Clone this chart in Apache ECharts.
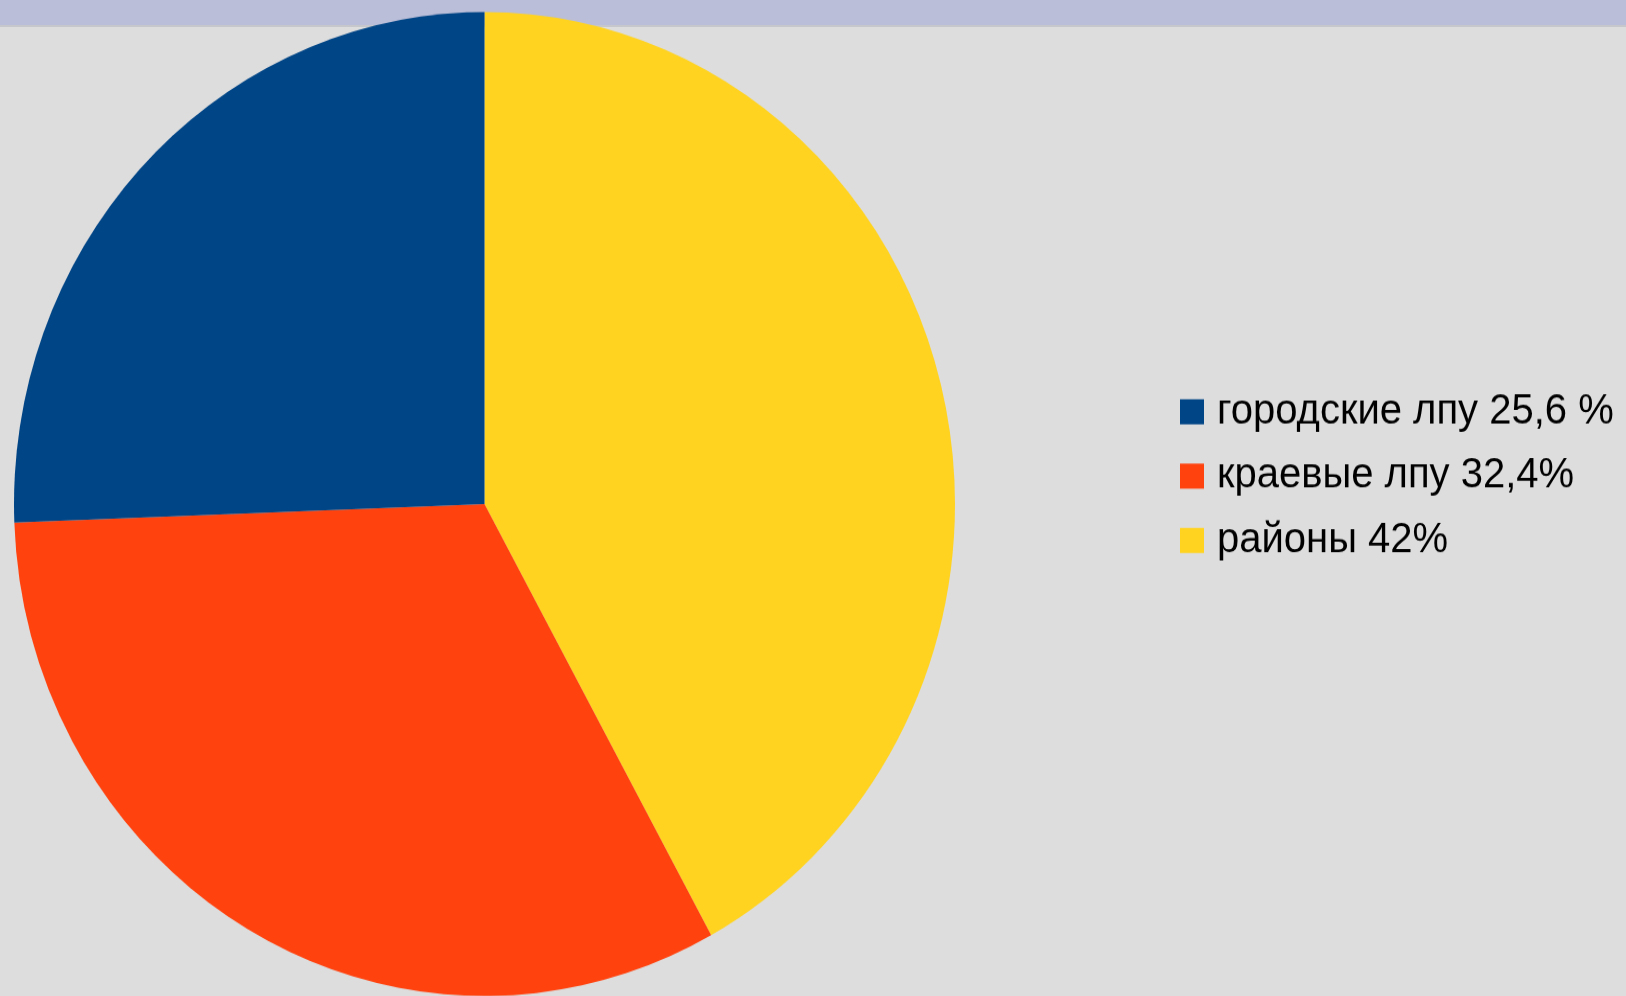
<!DOCTYPE html>
<html>
<head>
<meta charset="utf-8">
<script src="https://cdn.jsdelivr.net/npm/echarts@6/dist/echarts.min.js"></script>
<style>
html,body{margin:0;padding:0;width:1626px;height:996px;overflow:hidden;background:#dddddd;}
#band{position:absolute;left:0;top:0;width:1626px;height:25px;background:#babed8;border-bottom:2px solid #c6c7cc;}
#chart{position:absolute;left:0;top:0;width:1626px;height:952.5px;transform:scaleY(1.0457);transform-origin:0 0;}
</style>
</head>
<body>
<div id="band"></div>
<div id="chart"></div>
<script>
// Data
const categories = ['районы 42%', 'краевые лпу 32,4%', 'городские лпу 25,6 %'];
const values = [42, 32.4, 25.6];
const colors = ['#ffd320', '#ff420e', '#004586'];
const legendOrder = ['городские лпу 25,6 %', 'краевые лпу 32,4%', 'районы 42%'];

const chart = echarts.init(document.getElementById('chart'), null, {renderer: 'canvas'});
chart.setOption({
  backgroundColor: 'transparent',
  animation: false,
  legend: {
    orient: 'vertical',
    left: 1175,
    top: 368.8,
    padding: 5,
    data: legendOrder,
    icon: 'rect',
    itemWidth: 24,
    itemHeight: 24,
    itemGap: 21.5,
    selectedMode: false,
    textStyle: {
      fontFamily: 'Liberation Sans',
      fontSize: 40,
      color: '#000000',
      padding: [0, 0, 0, 8]
    }
  },
  series: [{
    type: 'pie',
    center: [484.5, 482],
    radius: [0, 470.5],
    startAngle: 90,
    clockwise: true,
    label: {show: false},
    labelLine: {show: false},
    emphasis: {disabled: true},
    itemStyle: {borderWidth: 0},
    data: categories.map((c, i) => ({name: c, value: values[i], itemStyle: {color: colors[i]}}))
  }]
});
</script>
</body>
</html>
